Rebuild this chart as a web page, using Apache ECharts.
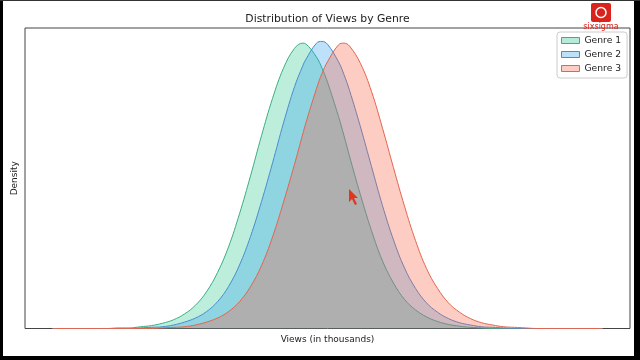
<!DOCTYPE html>
<html>
<head>
<meta charset="utf-8">
<script src="https://cdn.jsdelivr.net/npm/echarts@6/dist/echarts.min.js"></script>
<style>html,body{margin:0;padding:0;background:#fff;}#c{width:640px;height:360px;}</style>
</head>
<body>
<div id="c"></div>
<script>
// x positions (views, in thousands, arbitrary units)
const views = [0,2,4,6,8,10,12,14,16,18,20,22,24,26,28,30,32,34,36,38,40,42,44,45.5,46,48,49,50,52,53,54,56,58,60,62,64,66,68,70,72,74,76,78,80,82,84,86,88,90,92,94,96,98,100];
const genre1 = [0,0,0,0,0,0,0.0001,0.0001,0.0003,0.0005,0.0009,0.0015,0.0025,0.0040,0.0063,0.0096,0.0140,0.0197,0.0262,0.0331,0.0395,0.0447,0.0481,0.0490,0.0489,0.0466,0.0447,0.0423,0.0364,0.0331,0.0296,0.0229,0.0168,0.0116,0.0078,0.0050,0.0032,0.0020,0.0012,0.0007,0.0004,0.0002,0.0001,0,0,0,0,0,0,0,0,0,0,0];
const genre2 = [0,0,0,0,0,0,0,0,0.0001,0.0002,0.0003,0.0006,0.0011,0.0018,0.0029,0.0046,0.0072,0.0109,0.0158,0.0218,0.0284,0.0353,0.0415,0.0451,0.0461,0.0490,0.0493,0.0488,0.0458,0.0436,0.0409,0.0346,0.0278,0.0211,0.0152,0.0104,0.0069,0.0044,0.0028,0.0017,0.0010,0.0006,0.0003,0.0002,0.0001,0,0,0,0,0,0,0,0,0];
const genre3 = [0,0,0,0,0,0,0,0,0,0,0.0001,0.0002,0.0003,0.0006,0.0011,0.0018,0.0029,0.0046,0.0072,0.0108,0.0157,0.0217,0.0282,0.0334,0.0351,0.0412,0.0438,0.0458,0.0487,0.0490,0.0485,0.0455,0.0407,0.0344,0.0276,0.0210,0.0151,0.0103,0.0069,0.0044,0.0028,0.0017,0.0010,0.0006,0.0003,0.0002,0.0001,0,0,0,0,0,0,0];
const genreNames = ['Genre 1','Genre 2','Genre 3'];
const genreValues = [genre1, genre2, genre3];

const fillColors = ['#26c68a','#269bee','#f85837'];
const lineColors = ['#3aae84','#4a8cd0','#e2654f'];
const legendFills = ['#b6ecd7','#bee1fa','#fdcdc3'];
const FONT = 'DejaVu Sans';

const chart = echarts.init(document.getElementById('c'), null, {renderer:'canvas'});
const series = genreNames.map((name, i) => ({
  name: name,
  type: 'line',
  data: views.map((x, k) => [x, genreValues[i][k]]),
  smooth: 0.4,
  symbol: 'none',
  lineStyle: {color: lineColors[i], width: 1},
  itemStyle: {color: lineColors[i]},
  areaStyle: {color: fillColors[i], opacity: 0.3},
  z: 2 + i
}));

chart.setOption({
  animation: false,
  backgroundColor: '#ffffff',
  textStyle: {fontFamily: FONT},
  title: {
    text: 'Distribution of Views by Genre',
    left: 327.5, top: 14, padding: 0, textAlign: 'center',
    textStyle: {fontFamily: FONT, fontSize: 10.8, fontWeight: 'normal', color: '#1a1a1a'}
  },
  grid: {left: 25, right: 10, top: 28, bottom: 31.5, show: true, borderColor: '#444', borderWidth: 1, backgroundColor: 'transparent'},
  xAxis: {
    type: 'value', min: -5, max: 105,
    name: 'Views (in thousands)', nameLocation: 'middle', nameGap: 7,
    nameTextStyle: {fontFamily: FONT, fontSize: 9, color: '#1a1a1a'},
    axisLine: {show: false}, axisTick: {show: false}, axisLabel: {show: false}, splitLine: {show: false}
  },
  yAxis: {
    type: 'value', min: 0, max: 0.0516,
    name: 'Density', nameLocation: 'middle', nameGap: 6,
    nameTextStyle: {fontFamily: FONT, fontSize: 9, color: '#1a1a1a'},
    axisLine: {show: false}, axisTick: {show: false}, axisLabel: {show: false}, splitLine: {show: false}
  },
  legend: {
    orient: 'vertical', left: 557, top: 32,
    padding: [4, 6, 5, 4],
    itemWidth: 18, itemHeight: 6, itemGap: 5,
    backgroundColor: 'rgba(255,255,255,0.8)', borderColor: '#cccccc', borderWidth: 1, borderRadius: 3,
    textStyle: {fontFamily: FONT, fontSize: 9.2, color: '#1a1a1a', lineHeight: 9},
    data: genreNames.map((n, i) => ({name: n, icon: 'rect', itemStyle: {color: legendFills[i], borderColor: lineColors[i], borderWidth: 1}}))
  },
  series: series,
  graphic: [
    {type: 'rect', shape: {x: 0, y: 0, width: 3, height: 360}, style: {fill: '#000'}, z: 100},
    {type: 'rect', shape: {x: 634, y: 0, width: 6, height: 360}, style: {fill: '#000'}, z: 100},
    {type: 'rect', shape: {x: 0, y: 356, width: 640, height: 4}, style: {fill: '#000'}, z: 100},
    {type: 'rect', shape: {x: 0, y: 0, width: 640, height: 1}, style: {fill: '#333'}, z: 100},
    {type: 'rect', shape: {x: 591, y: 3, width: 20, height: 19, r: 2}, style: {fill: '#d9231c'}, z: 100},
    {type: 'circle', shape: {cx: 601, cy: 12.5, r: 5}, style: {fill: 'none', stroke: '#fff', lineWidth: 1.5}, z: 101},
    {type: 'text', x: 601, y: 27, style: {text: 'sixsigma', fill: '#d9231c', font: '8px "DejaVu Sans"', align: 'center', verticalAlign: 'middle'}, z: 101},
    {type: 'polygon', shape: {points: [[349,189],[349,202],[352,199],[355,205],[357,204],[354,198],[358,198]]}, style: {fill: '#e3341c'}, z: 100}
  ]
});
</script>
</body>
</html>
